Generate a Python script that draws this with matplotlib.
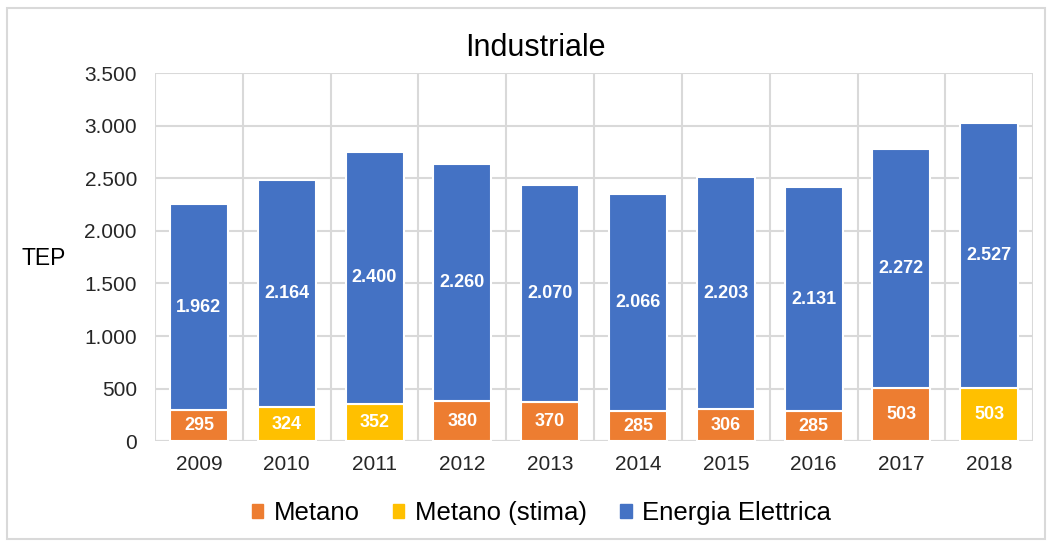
import numpy as np
import matplotlib
matplotlib.use("Agg")
from matplotlib import pyplot as plt
from matplotlib.patches import Rectangle

plt.rcParams['font.family'] = ['Liberation Sans', 'DejaVu Sans']

years = ["2009", "2010", "2011", "2012", "2013", "2014", "2015", "2016", "2017", "2018"]
metano = [295, 324, 352, 380, 370, 285, 306, 285, 503, 503]
stima = [False, True, True, False, False, False, False, False, False, True]
elettrica = [1962, 2164, 2400, 2260, 2070, 2066, 2203, 2131, 2272, 2527]

c_met = "#ED7D31"
c_sti = "#FFC000"
c_ele = "#4472C4"

def fmt(v):
    return f"{v:,}".replace(",", ".")

fig = plt.figure(figsize=(10.51, 5.46), dpi=100)
ax = fig.add_axes([0.1475, 0.192, 0.8355, 0.674])

x = np.arange(len(years))
w = 0.66
met_col = [c_sti if s else c_met for s in stima]
ax.bar(x, metano, w, color=met_col, edgecolor="white", linewidth=1.5, zorder=3)
ax.bar(x, elettrica, w, bottom=metano, color=c_ele, edgecolor="white", linewidth=1.5, zorder=3)

for i in range(len(years)):
    ax.text(x[i], metano[i] / 2, fmt(metano[i]), ha="center", va="center",
            color="white", fontsize=13, fontweight="bold", zorder=4)
    ax.text(x[i], metano[i] + elettrica[i] / 2, fmt(elettrica[i]), ha="center", va="center",
            color="white", fontsize=13, fontweight="bold", zorder=4)

ax.set_xlim(-0.5, len(years) - 0.5)
ax.set_ylim(0, 3500)
ax.set_yticks(np.arange(0, 3501, 500))
ax.set_yticklabels([fmt(v) for v in range(0, 3501, 500)])
ax.set_xticks(x)
ax.set_xticklabels(years)
ax.set_xticks(np.arange(-0.5, len(years)), minor=True)
ax.tick_params(axis="both", which="both", length=0, labelsize=15, colors="#262626")
ax.tick_params(axis="x", pad=10)
ax.tick_params(axis="y", pad=13)
ax.grid(axis="y", color="#D9D9D9", linewidth=1.5, zorder=0)
ax.grid(axis="x", which="minor", color="#D9D9D9", linewidth=1.5, zorder=0)
for s in ax.spines.values():
    s.set_visible(False)
ax.axhline(0, color="#D9D9D9", linewidth=1.5, zorder=2)

fig.text(0.509, 0.912, "Industriale", fontsize=22, ha="center", va="center", color="#000000")
fig.text(0.042, 0.527, "TEP", fontsize=16.5, ha="center", va="center", color="#000000")

handles = [Rectangle((0, 0), 1, 1, color=c_met),
           Rectangle((0, 0), 1, 1, color=c_sti),
           Rectangle((0, 0), 1, 1, color=c_ele)]
fig.legend(handles, ["Metano", "Metano (stima)", "Energia Elettrica"], loc="center",
           bbox_to_anchor=(0.515, 0.06), ncol=3, frameon=False, fontsize=18.5,
           handlelength=0.45, handleheight=0.45, handletextpad=0.4, columnspacing=1.3)

fig.patches.append(Rectangle((0.007, 0.012), 0.987, 0.973, transform=fig.transFigure,
                             fill=False, edgecolor="#D9D9D9", linewidth=1.5))

fig.savefig("out.png", dpi=100)
